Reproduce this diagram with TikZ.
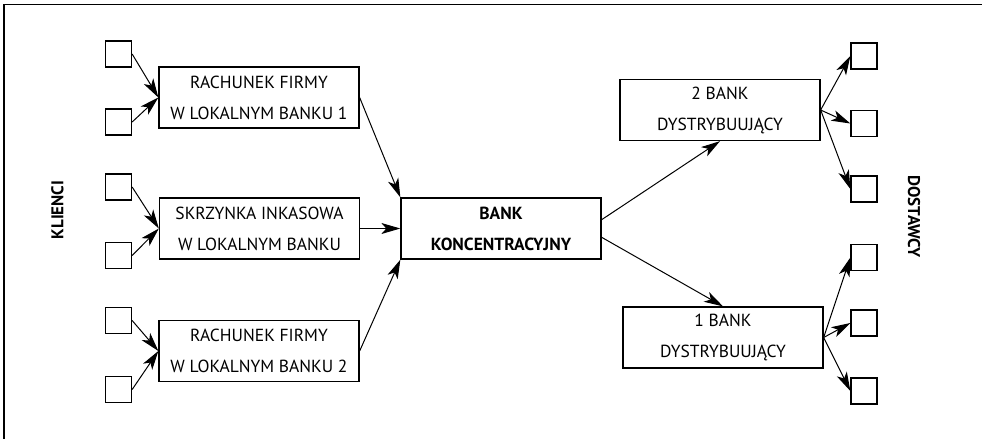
\documentclass[tikz,border=0pt]{standalone}
\usepackage{fontspec}
\setmainfont{PT Sans}
\usetikzlibrary{arrows.meta}

\tikzset{
  bankbox/.style = {draw, line width = 1.3pt, minimum width = 200pt, minimum height = 61pt,
    align = center, inner sep = 0pt, font = \fontsize{17.5}{31}\selectfont},
  party/.style = {draw, line width = 1.3pt, minimum size = 26pt, inner sep = 0pt},
  flow/.style = {->, line width = 1pt},
  sidelabel/.style = {font = \fontsize{17}{17}\selectfont\bfseries}
}

\begin{document}
\begin{tikzpicture}
          [x = 1pt, y = -1pt, >= {Stealth[length = 19pt, width = 11pt, inset = 5pt]}]
          \useasboundingbox (0,0) rectangle (982,439);
          \draw[line width = 1.8pt] (982,4.5) -- (4,4.5) -- (4,439);
          % klienci i dostawcy
          \foreach \y [count = \i] in {54, 122, 187, 255.5, 320.5, 389.5}
            \node[party] (c\i) at (118.5,\y) {};
          \foreach \y [count = \i] in {56, 123.5, 189, 257.5, 323, 391}
            \node[party] (s\i) at (864,\y) {};
          \node[sidelabel, rotate = 90] (kl) at (57.5,210) {KLIENCI};
          \node[sidelabel, rotate = -90] (ds) at (914,216.5) {DOSTAWCY};
          % banki
          \node[bankbox] (r1) at (259,97.5) {RACHUNEK FIRMY\\W LOKALNYM BANKU 1};
          \node[bankbox] (sk) at (259.5,228.5) {SKRZYNKA INKASOWA\\W LOKALNYM BANKU};
          \node[bankbox] (r2) at (259,351) {RACHUNEK FIRMY\\W LOKALNYM BANKU 2};
          \node[bankbox, font = \fontsize{17.5}{31}\selectfont\bfseries] (bk) at (501,228.5)
            {BANK\\KONCENTRACYJNY};
          \node[bankbox] (d2) at (720,110) {2 BANK\\DYSTRYBUUJĄCY};
          \node[bankbox] (d1) at (723,337.5) {1 BANK\\DYSTRYBUUJĄCY};
          % przeplywy
          \foreach \i/\b in {1/r1, 2/r1, 3/sk, 4/sk, 5/r2, 6/r2}
            \draw[flow] (c\i.east) -- (\b.west);
          \draw[flow] (r1.east) -- (bk.north west);
          \draw[flow] (sk.east) -- (bk.west);
          \draw[flow] (r2.east) -- (bk.south west);
          \draw[flow] (bk.5) -- (d2.south);
          \draw[flow] (bk.-5) -- (d1.north);
          \foreach \i in {1, 2, 3}
            \draw[flow] (d2.east) -- (s\i.west);
          \foreach \i in {4, 5, 6}
            \draw[flow] (d1.east) -- (s\i.west);
        \end{tikzpicture}
\end{document}
